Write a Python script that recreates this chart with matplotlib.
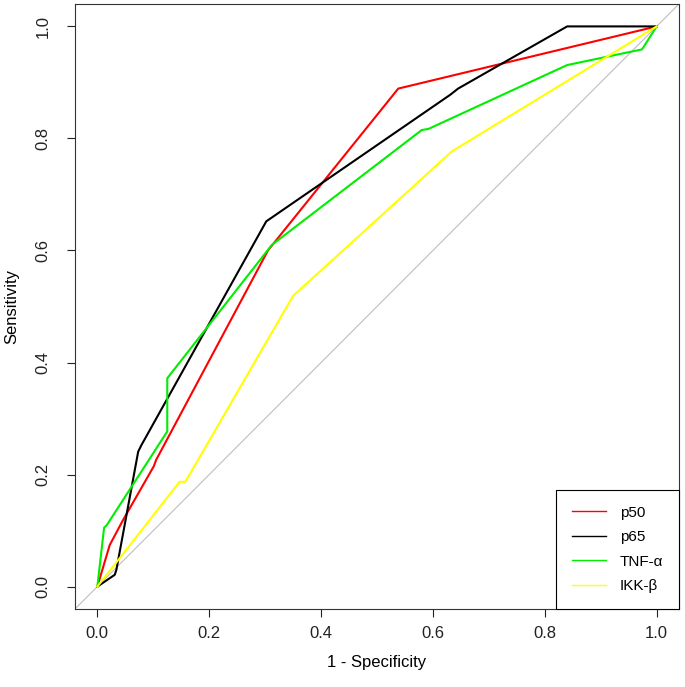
import matplotlib
matplotlib.use("Agg")
import matplotlib.pyplot as plt

plt.rcParams["font.family"] = ["Liberation Sans", "DejaVu Sans"]

# ROC curve points (1 - specificity, sensitivity)
p50_fpr = [0.0, 0.022, 0.046, 0.101, 0.105, 0.305, 0.538, 1.0]
p50_tpr = [0.0, 0.074, 0.119, 0.215, 0.226, 0.600, 0.889, 1.0]

p65_fpr = [0.0, 0.031, 0.034, 0.073, 0.079, 0.302, 0.631, 0.645, 0.840, 1.0]
p65_tpr = [0.0, 0.021, 0.030, 0.241, 0.253, 0.652, 0.878, 0.889, 1.0, 1.0]

tnf_fpr = [0.0, 0.012, 0.017, 0.125, 0.125, 0.312, 0.580, 0.592, 0.840, 0.974, 1.0]
tnf_tpr = [0.0, 0.105, 0.110, 0.277, 0.372, 0.610, 0.815, 0.817, 0.931, 0.959, 1.0]

ikk_fpr = [0.0, 0.147, 0.157, 0.166, 0.350, 0.634, 1.0]
ikk_tpr = [0.0, 0.187, 0.187, 0.202, 0.519, 0.777, 1.0]

labels = ["p50", "p65", "TNF-\u03b1", "IKK-\u03b2"]
colors = ["#FF0000", "#000000", "#00EE00", "#FFFF00"]

fig = plt.figure(figsize=(6.85, 6.87), dpi=100)
ax = fig.add_axes([75 / 685, 78 / 687, 604 / 685, 605 / 687])

ax.axline((0, 0), (1, 1), color="#BEBEBE", lw=0.8, zorder=1)

curves = [(p50_fpr, p50_tpr), (p65_fpr, p65_tpr), (tnf_fpr, tnf_tpr), (ikk_fpr, ikk_tpr)]
for (x, y), lab, c in zip(curves, labels, colors):
    ax.plot(x, y, color=c, lw=1.5, label=lab, zorder=2)

ax.set_xlim(-0.04, 1.04)
ax.set_ylim(-0.04, 1.04)
ticks = [0.0, 0.2, 0.4, 0.6, 0.8, 1.0]
ax.set_xticks(ticks, [f"{t:.1f}" for t in ticks])
ax.set_yticks(ticks, [f"{t:.1f}" for t in ticks])
for lbl in ax.get_yticklabels():
    lbl.set_rotation(90)
    lbl.set_va("center")
ax.tick_params(direction="out", length=5.5, width=0.8, labelsize=12, colors="#222222")
ax.tick_params(axis="x", pad=7)
ax.tick_params(axis="y", pad=12)
for s in ax.spines.values():
    s.set_linewidth(0.8)
    s.set_color("#333333")

ax.set_xlabel("1 - Specificity", fontsize=12, labelpad=10)
ax.set_ylabel("Sensitivity", fontsize=12, labelpad=12)

leg = ax.legend(loc="lower right", bbox_to_anchor=(1.0, 0.0), borderaxespad=0,
                fancybox=False, edgecolor="black", framealpha=1, fontsize=11,
                handlelength=2.2, handletextpad=0.9, labelspacing=0.68, borderpad=1.05)
leg.get_frame().set_linewidth(0.8)
for h in leg.get_lines():
    h.set_linewidth(1.0)

fig.savefig("out.png", dpi=100)
